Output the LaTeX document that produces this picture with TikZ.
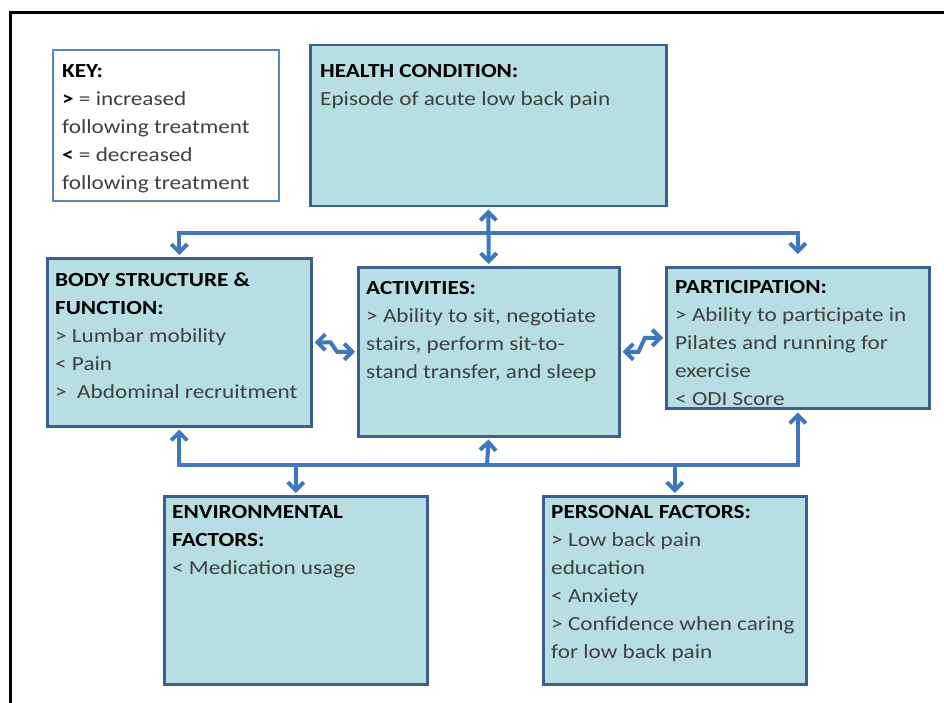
\documentclass[tikz,border=0pt]{standalone}
\usepackage{fontspec}
\setmainfont{Carlito}[FakeStretch=1.16]
\usetikzlibrary{arrows.meta}

\definecolor{boxfill}{HTML}{B7DEE2}
\definecolor{boxline}{HTML}{3B5F92}
\definecolor{keyline}{HTML}{5A86C5}
\definecolor{linkblue}{HTML}{3C77C0}
\definecolor{txtgrey}{HTML}{404040}

\newcommand{\icfhead}[1]{\textcolor{black}{\textbf{#1}}}

\tikzset{
  icfbox/.style={draw=boxline, fill=boxfill, line width=2.5pt,
    anchor=north west, inner sep=0pt},
  keybox/.style={draw=keyline, fill=white, line width=1.8pt,
    anchor=north west, inner sep=0pt},
  boxtext/.style={anchor=north west, align=left, inner sep=0pt,
    text=txtgrey, font=\fontsize{20}{28}\selectfont},
  link/.style={draw=linkblue, line width=4pt,
    >={Straight Barb[length=8pt,width=16pt]}},
  frame/.style={draw=black, line width=3pt}
}

\begin{document}
\begin{tikzpicture}[x=1pt,y=-1pt]
  \useasboundingbox (0,0) rectangle (944,703);
  \draw[frame] (10,13) rectangle (970,730);

  % boxes
  \node[keybox, minimum width=226pt, minimum height=151pt] (key) at (52,49) {};
  \node[icfbox, minimum width=356pt, minimum height=161pt] (hc) at (309,44) {};
  \node[icfbox, minimum width=264pt, minimum height=168pt] (body) at (46,257) {};
  \node[icfbox, minimum width=261pt, minimum height=169pt] (act) at (357,266) {};
  \node[icfbox, minimum width=263pt, minimum height=141pt] (part) at (665,266) {};
  \node[icfbox, minimum width=263pt, minimum height=188pt] (env) at (163,495) {};
  \node[icfbox, minimum width=263pt, minimum height=188pt] (pers) at (542,495) {};

  % texts
  \node[boxtext] (keytxt) at ([shift={(10,15)}]key.north west)
  {\icfhead{KEY:}\\\icfhead{>} = increased\\following treatment\\
   \icfhead{<} = decreased\\following treatment};
  \node[boxtext] (hctxt) at ([shift={(11,20)}]hc.north west)
  {\icfhead{HEALTH CONDITION:}\\Episode of acute low back pain};
  \node[boxtext] (bodytxt) at ([shift={(9,15)}]body.north west)
  {\icfhead{BODY STRUCTURE \&}\\\icfhead{FUNCTION:}\\> Lumbar mobility\\
   < Pain\\>\ \ Abdominal recruitment};
  \node[boxtext] (acttxt) at ([shift={(9,15)}]act.north west)
  {\icfhead{ACTIVITIES:}\\> Ability to sit, negotiate\\stairs, perform sit-to-\\
   stand transfer, and sleep};
  \node[boxtext] (parttxt) at ([shift={(10,14)}]part.north west)
  {\icfhead{PARTICIPATION:}\\> Ability to participate in\\Pilates and running for\\
   exercise\\< ODI Score};
  \node[boxtext] (envtxt) at ([shift={(9,10)}]env.north west)
  {\icfhead{ENVIRONMENTAL}\\\icfhead{FACTORS:}\\< Medication usage};
  \node[boxtext] (perstxt) at ([shift={(9,10)}]pers.north west)
  {\icfhead{PERSONAL FACTORS:}\\> Low back pain\\education\\< Anxiety\\
   > Confidence when caring\\for low back pain};

  % connectors
  \coordinate (upper) at (487,233);
  \coordinate (lower) at (487,465);

  \draw[link,<->,shorten <=2pt,shorten >=12pt] (body.north) |- (upper) -| (part.north);
  \draw[link,<->,shorten <=2pt,shorten >=2pt] (hc.south) -- (act.north);

  \draw[link,<->,shorten <=2pt,shorten >=3pt] (body.south) |- (lower) -| (part.south);
  \draw[link,->,shorten >=2pt] (lower) -- (act.south);
  \draw[link,->,shorten >=2pt] (env.north |- lower) -- (env.north);
  \draw[link,->,shorten >=2pt] (pers.north |- lower) -- (pers.north);

  \draw[link,<->,shorten <=2pt,shorten >=2pt]
  (body.east) -- ++(18,0) -- ([xshift=-20pt]act.west) -- (act.west);
  \draw[link,<->,shorten <=2pt,shorten >=2pt]
  (act.east) -- ++(18,0) -- ([xshift=-20pt]part.west) -- (part.west);
\end{tikzpicture}
\end{document}
